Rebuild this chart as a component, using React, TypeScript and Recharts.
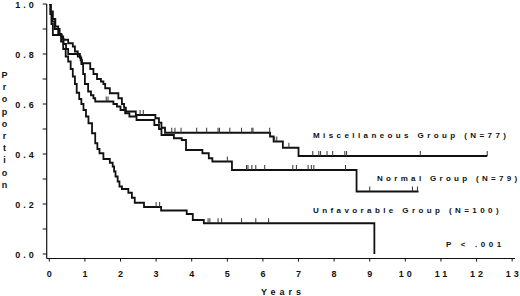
import React from "react";
import { ComposedChart, Line, Scatter, XAxis, YAxis } from "recharts";

// ---- Kaplan-Meier step data (time in years, proportion surviving) ----
const miscTimes = [0, 0.04, 0.08, 0.15, 0.29, 0.34, 0.39, 0.53, 0.66, 0.72, 0.8, 0.88, 0.92, 1.15, 1.24, 1.34, 1.45, 1.52, 1.57, 1.7, 1.94, 2.04, 2.1, 2.15, 2.43, 2.98, 3.08, 3.15, 3.25, 6.2, 6.3, 6.56, 7.0, 12.3];
const miscSurv = [1.0, 0.96, 0.93, 0.9, 0.88, 0.87, 0.857, 0.843, 0.83, 0.81, 0.79, 0.775, 0.763, 0.74, 0.72, 0.7, 0.69, 0.68, 0.663, 0.643, 0.623, 0.6, 0.585, 0.57, 0.556, 0.543, 0.525, 0.505, 0.485, 0.47, 0.45, 0.425, 0.392, 0.392];

const normTimes = [0, 0.03, 0.06, 0.1, 0.35, 0.4, 0.47, 0.53, 0.86, 0.9, 0.95, 1.0, 1.09, 1.17, 1.24, 1.29, 1.8, 1.9, 2.0, 2.13, 2.25, 2.45, 2.95, 3.08, 3.15, 3.5, 3.72, 3.84, 4.3, 4.48, 4.58, 5.13, 8.63, 10.37];
const normSurv = [1.0, 0.96, 0.92, 0.876, 0.86, 0.84, 0.82, 0.8, 0.785, 0.76, 0.72, 0.68, 0.65, 0.635, 0.623, 0.61, 0.6, 0.59, 0.576, 0.563, 0.55, 0.536, 0.516, 0.5, 0.476, 0.463, 0.456, 0.416, 0.403, 0.383, 0.37, 0.336, 0.25, 0.25];

const unfavTimes = [0, 0.04, 0.1, 0.17, 0.25, 0.33, 0.39, 0.46, 0.53, 0.6, 0.66, 0.72, 0.77, 0.84, 0.9, 0.96, 1.03, 1.1, 1.2, 1.29, 1.35, 1.41, 1.52, 1.7, 1.78, 1.82, 1.86, 1.92, 1.97, 2.04, 2.22, 2.32, 2.4, 2.66, 3.14, 3.86, 4.03, 4.34, 9.13];
const unfavSurv = [1.0, 0.97, 0.94, 0.91, 0.88, 0.85, 0.82, 0.79, 0.77, 0.74, 0.71, 0.68, 0.645, 0.62, 0.6, 0.576, 0.55, 0.523, 0.483, 0.443, 0.42, 0.403, 0.38, 0.365, 0.35, 0.33, 0.31, 0.29, 0.27, 0.26, 0.245, 0.225, 0.205, 0.188, 0.174, 0.16, 0.136, 0.123, 0.0];

// ---- censored observations ----
const miscCensTimes = [2.55, 2.64, 3.44, 3.53, 3.7, 4.14, 4.42, 4.74, 4.78, 5.07, 5.4, 5.69, 5.72, 6.19, 6.33, 6.39, 6.73, 7.4, 7.57, 7.62, 7.8, 7.96, 8.3, 8.35, 10.42, 12.3];
const miscCensSurv = [0.556, 0.556, 0.485, 0.485, 0.485, 0.485, 0.485, 0.485, 0.485, 0.485, 0.485, 0.485, 0.485, 0.485, 0.45, 0.45, 0.425, 0.392, 0.392, 0.392, 0.392, 0.392, 0.392, 0.392, 0.392, 0.392];

const normCensTimes = [1.6, 1.65, 5.0, 5.54, 5.58, 5.69, 5.8, 6.05, 6.84, 6.94, 7.27, 7.36, 7.43, 8.32, 9.0, 10.2, 10.34];
const normCensSurv = [0.61, 0.61, 0.37, 0.336, 0.336, 0.336, 0.336, 0.336, 0.336, 0.336, 0.336, 0.336, 0.336, 0.336, 0.25, 0.25, 0.25];

const unfavCensTimes = [3.0, 3.1, 4.46, 4.51, 4.74, 4.84, 5.4, 5.8, 6.16];
const unfavCensSurv = [0.188, 0.188, 0.123, 0.123, 0.123, 0.123, 0.123, 0.123, 0.123];

// ---- axes ----
const xTicks = [0, 1, 2, 3, 4, 5, 6, 7, 8, 9, 10, 11, 12, 13];
const yTicks = [0, 0.1, 0.2, 0.3, 0.4, 0.5, 0.6, 0.7, 0.8, 0.9, 1.0];
const yLabelTicks = [0, 0.2, 0.4, 0.6, 0.8, 1.0];

const groupLabels = ["Miscellaneous Group (N=77)", "Normal Group (N=79)", "Unfavorable Group (N=100)"];
const pValueText = "P < .001";
const xTitle = "Years";
const yTitle = "Proportion";

const toPts = (ts: number[], ps: number[]) => ts.map((t, i) => ({ t, p: ps[i] }));

const miscData = toPts(miscTimes, miscSurv);
const normData = toPts(normTimes, normSurv);
const unfavData = toPts(unfavTimes, unfavSurv);
const miscCens = toPts(miscCensTimes, miscCensSurv);
const normCens = toPts(normCensTimes, normCensSurv);
const unfavCens = toPts(unfavCensTimes, unfavCensSurv);

const FONT = "'Liberation Sans', Arial, Helvetica, sans-serif";
const INK = "#111";

// text with gaps between letters only (no trailing spacing)
const Spaced = (props: any) => {
  const { text, gap, x, y, anchor = "start", size = 8 } = props;
  const chars = String(text).split("");
  return (
    <text x={x} y={y} textAnchor={anchor} fontFamily={FONT} fontWeight="bold" fontSize={size} fill={INK}>
      {chars.map((ch: string, i: number) => (
        <tspan key={i} dx={i === 0 ? 0 : gap}>{ch === " " ? "\u00a0" : ch}</tspan>
      ))}
    </text>
  );
};

const CensorTick = (props: any) => {
  const { cx, cy } = props;
  if (cx == null || cy == null) return null;
  return <line x1={cx} x2={cx} y1={cy} y2={cy - 5} stroke="#333" strokeWidth={1} />;
};

const XTick = (props: any) => {
  const { x, y, payload } = props;
  return <Spaced text={String(payload.value)} gap={3} x={x} y={y + 13} anchor="middle" size={9} />;
};

const YTick = (props: any) => {
  const { x, y, payload } = props;
  const v = payload.value;
  const show = yLabelTicks.some((k) => Math.abs(k - v) < 1e-6);
  if (!show) return null;
  return <Spaced text={v.toFixed(1)} gap={3} x={x - 7} y={y + 3.5} anchor="end" size={9} />;
};

export default function App() {
  return (
    <div style={{ position: "absolute", left: 0, top: 0, width: 520, height: 296, background: "#fff" }}>
      <ComposedChart width={520} height={296} margin={{ top: 4, right: 5, bottom: 0, left: 0 }}>
        <XAxis
          type="number"
          dataKey="t"
          domain={[-0.073, 13.08]}
          ticks={xTicks}
          allowDataOverflow
          height={37.5}
          tickSize={3}
          tickLine={{ stroke: INK, strokeWidth: 1 }}
          axisLine={{ stroke: INK, strokeWidth: 1.2 }}
          tick={<XTick />}
          interval={0}
        />
        <YAxis
          type="number"
          dataKey="p"
          domain={[-0.018, 1.0]}
          ticks={yTicks}
          allowDataOverflow
          width={46.7}
          tickSize={4}
          tickLine={{ stroke: INK, strokeWidth: 1 }}
          axisLine={{ stroke: INK, strokeWidth: 1.2 }}
          tick={<YTick />}
          interval={0}
        />
        <Line data={miscData} dataKey="p" type="stepAfter" stroke={INK} strokeWidth={1.8} dot={false} isAnimationActive={false} />
        <Line data={normData} dataKey="p" type="stepAfter" stroke={INK} strokeWidth={1.8} dot={false} isAnimationActive={false} />
        <Line data={unfavData} dataKey="p" type="stepAfter" stroke={INK} strokeWidth={1.8} dot={false} isAnimationActive={false} />
        <Scatter data={miscCens} dataKey="p" shape={<CensorTick />} isAnimationActive={false} />
        <Scatter data={normCens} dataKey="p" shape={<CensorTick />} isAnimationActive={false} />
        <Scatter data={unfavCens} dataKey="p" shape={<CensorTick />} isAnimationActive={false} />
        <Spaced text={groupLabels[0]} gap={3.4} x={313} y={138} />
        <Spaced text={groupLabels[1]} gap={3.3} x={377} y={180.5} />
        <Spaced text={groupLabels[2]} gap={3.4} x={313} y={213} />
        <Spaced text={pValueText} gap={3.6} x={446} y={247} />
        <Spaced text={xTitle} gap={4} x={281} y={295} anchor="middle" size={9} />
        <text fontFamily={FONT} fontWeight="bold" fontSize={9} fill={INK} textAnchor="middle">
          {yTitle.split("").map((ch, i) => (
            <tspan key={i} x={4.5} y={78 + i * 12.2}>{ch}</tspan>
          ))}
        </text>
      </ComposedChart>
    </div>
  );
}
